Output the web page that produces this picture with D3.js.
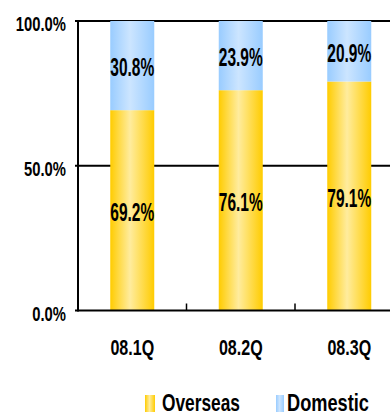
<!DOCTYPE html>
<html><head><meta charset="utf-8">
<script src="https://cdn.jsdelivr.net/npm/d3@7"></script>
<style>
html,body{margin:0;padding:0;background:#fff;}
text{font-family:"Liberation Sans",Arial,sans-serif;font-weight:bold;fill:#000;}
</style></head><body>
<svg id="c" width="390" height="415"></svg>
<script>
const categories = ["08.1Q","08.2Q","08.3Q"];
const overseas = [69.2, 76.1, 79.1];
const domestic = [30.8, 23.9, 20.9];
const yTicks = [0, 50, 100];
const seriesNames = ["Overseas","Domestic"];

(function(){
const svg = d3.select("#c");
const mLeft = 78, mTop = 21, mBottom = 310.5, mRight = 403.5;
const x = d3.scaleBand().domain(categories).range([mLeft, mRight]);
const y = d3.scaleLinear().domain([0,100]).range([mBottom, mTop]);

const defs = svg.append("defs");
function grad(id, edge, mid){
  const g = defs.append("linearGradient").attr("id",id).attr("x1","0").attr("x2","1").attr("y1","0").attr("y2","0");
  g.append("stop").attr("offset","0%").attr("stop-color",edge);
  g.append("stop").attr("offset","45%").attr("stop-color",mid);
  g.append("stop").attr("offset","100%").attr("stop-color",edge);
}
grad("gO","#FFCC00","#FFEC9E");
grad("gD","#99CCFF","#CCE5FF");

function label(sel, fx, fy, sx, size, anchor){
  return sel.attr("transform",(d,i)=>`translate(${fx(d,i)},${fy(d,i)}) scale(${sx},1)`)
    .attr("text-anchor",anchor).style("font-size",size+"px");
}

svg.append("g").selectAll("line").data(yTicks.filter(d=>d>0)).join("line")
  .attr("x1",mLeft-3).attr("x2",390).attr("y1",d=>y(d)).attr("y2",d=>y(d))
  .attr("stroke","#000").attr("stroke-width",2);

const bw = 44;
const data = categories.map((c,i)=>({c, o:overseas[i], d:domestic[i]}));
const g = svg.append("g");
const cx = d=>x(d.c)+x.bandwidth()/2;
g.selectAll("rect.o").data(data).join("rect").attr("class","o")
  .attr("x",d=>cx(d)-bw/2).attr("width",bw)
  .attr("y",d=>y(d.o)).attr("height",d=>y(0)-y(d.o)).attr("fill","url(#gO)");
g.selectAll("rect.d").data(data).join("rect").attr("class","d")
  .attr("x",d=>cx(d)-bw/2).attr("width",bw)
  .attr("y",d=>y(d.o+d.d)).attr("height",d=>y(d.o)-y(d.o+d.d)).attr("fill","url(#gD)");

label(g.selectAll("text.o").data(data).join("text").attr("class","o"),
  cx, d=>(y(d.o)+y(0))/2+10.5, 0.62, 25, "middle").text(d=>d.o.toFixed(1)+"%");
label(g.selectAll("text.d").data(data).join("text").attr("class","d"),
  cx, d=>(y(d.o)+y(d.o+d.d))/2+10.5, 0.62, 25, "middle").text(d=>d.d.toFixed(1)+"%");

const xAxis = svg.append("g").attr("transform",`translate(0,${mBottom})`);
xAxis.append("line").attr("x1",mLeft-3).attr("x2",390).attr("stroke","#000").attr("stroke-width",2);
xAxis.selectAll("line.t").data(categories.slice(1)).join("line").attr("class","t")
  .attr("x1",d=>x(d)).attr("x2",d=>x(d)).attr("y1",0).attr("y2",-7).attr("stroke","#000").attr("stroke-width",1.5);
label(xAxis.selectAll("text").data(categories).join("text"),
  d=>x(d)+x.bandwidth()/2, ()=>44.5, 0.73, 22, "middle").text(d=>d);

svg.append("line").attr("x1",mLeft).attr("x2",mLeft).attr("y1",mTop-1).attr("y2",mBottom+1).attr("stroke","#000").attr("stroke-width",2);
label(svg.append("g").selectAll("text").data(yTicks).join("text"),
  ()=>66, d=>y(d)+10, 0.76, 19.5, "end").text(d=>d.toFixed(1)+"%");

const leg = svg.append("g");
const lx = [145, 276];
const lw = [10, 8];
const tx = [162, 287];
const tl = [78, 82];
seriesNames.forEach((s,i)=>{
  leg.append("rect").attr("x",lx[i]).attr("y",395).attr("width",lw[i]).attr("height",17)
    .attr("fill",i===0?"url(#gO)":"url(#gD)");
  leg.append("text").attr("x",tx[i]).attr("y",411)
    .attr("textLength",tl[i]).attr("lengthAdjust","spacingAndGlyphs")
    .style("font-size","24px").text(s);
});
})();
</script>
</body></html>
